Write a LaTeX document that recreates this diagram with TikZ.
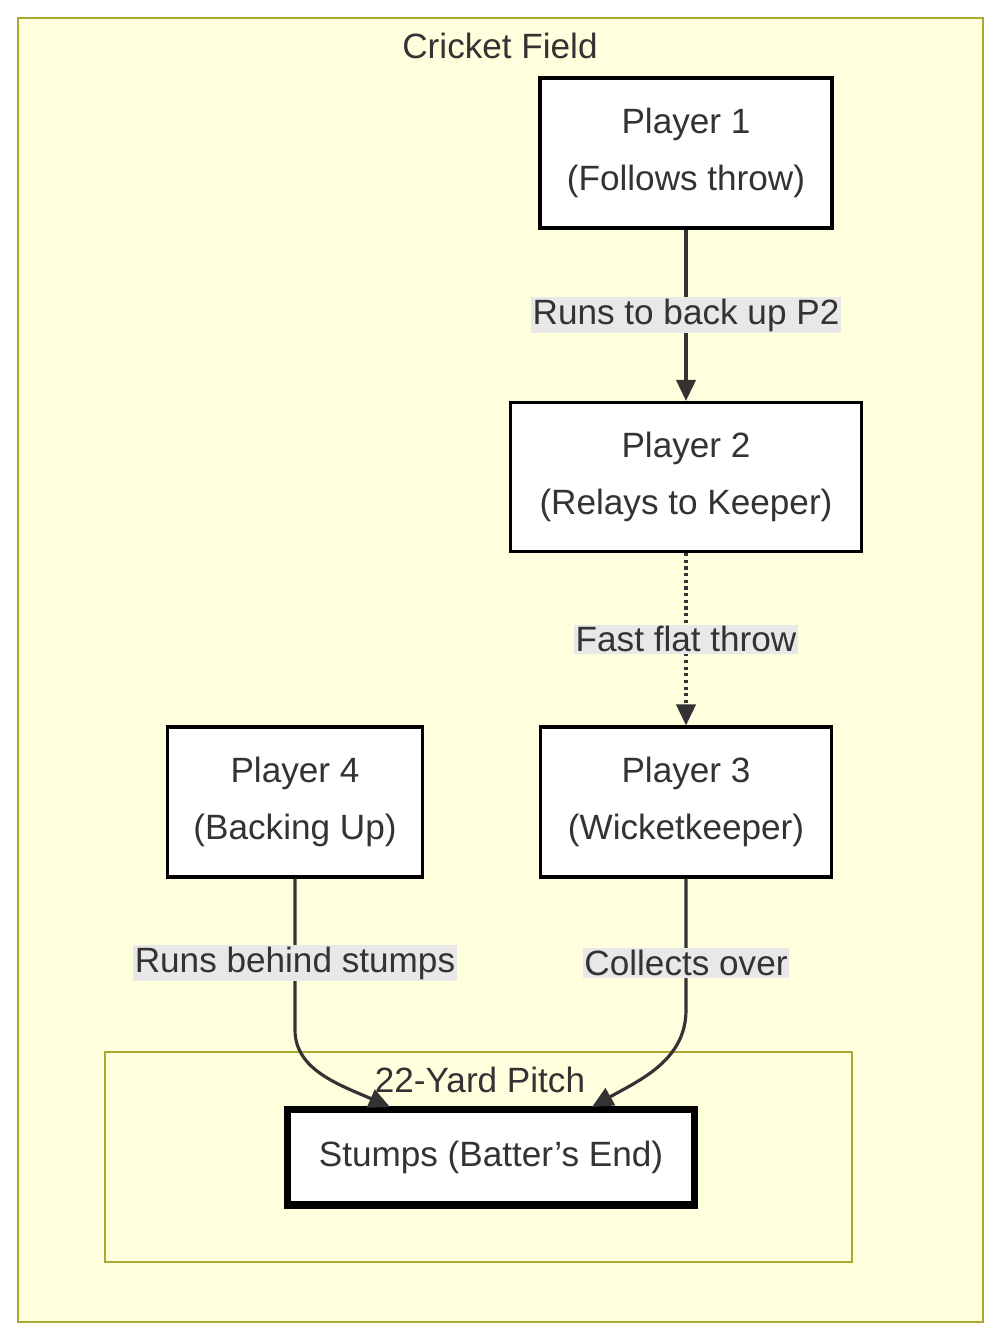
\documentclass[tikz,border=0pt]{standalone}
\usepackage{fontspec}
\setmainfont{Liberation Sans}
\usetikzlibrary{arrows.meta,positioning}
\definecolor{field}{HTML}{FFFFDE}
\definecolor{fieldline}{HTML}{AAAA33}
\definecolor{ink}{HTML}{333333}
\definecolor{lblbg}{HTML}{E8E8E8}

\begin{document}
\begin{tikzpicture}[
    x=0.02cm, y=-0.02cm,
    area/.style={draw=fieldline, fill=field, line width=1.2pt},
    player/.style={draw=black, fill=white, line width=1.8pt, align=center, text=ink, font=\fontsize{20}{32}\selectfont, inner sep=0pt},
    lbl/.style={fill=lblbg, text=ink, font=\fontsize{20}{24}\selectfont, inner sep=1pt},
    title/.style={text=ink, font=\fontsize{20}{24}\selectfont},
    arrow/.style={-{Triangle[length=12pt,width=11pt]}, line width=1.8pt, draw=ink}
]

\useasboundingbox (0,0) rectangle (1000,1341);

% Field and pitch
\draw[area] (18,18) rectangle (983,1322);
\node[title] (fieldlbl) at (500,46) {Cricket Field};
\draw[area] (105,1052) rectangle (852,1262);
\node[title] (pitchlbl) at (480,1080) {22-Yard Pitch};

% Players
\node[player, minimum width=5.84cm, minimum height=3cm] (p1) at (686,153) {Player 1\\(Follows throw)};
\node[player, minimum width=7.02cm, minimum height=2.98cm] (p2) at (686,477) {Player 2\\(Relays to Keeper)};
\node[player, minimum width=5.82cm, minimum height=3cm] (p3) at (686,802) {Player 3\\(Wicketkeeper)};
\node[player, minimum width=5.1cm, minimum height=3cm] (p4) at (295,802) {Player 4\\(Backing Up)};
\node[player, line width=4pt, minimum width=8.16cm, minimum height=1.92cm] (stumps) at (491,1157) {Stumps (Batter's End)};

% Connectors
\coordinate (s4) at (390,1107);
\coordinate (s3) at (592,1107);
\draw[arrow] (p1) -- node[lbl] {Runs to back up P2} (p2);
\draw[arrow, dotted] (p2) -- node[lbl] {Fast flat throw} (p3);
\draw[arrow] (p4.south) -- (295,1030) .. controls (295,1070) and (340,1085) .. (s4);
\draw[arrow] (p3.south) -- (686,1010) .. controls (686,1060) and (640,1080) .. (s3);
\node[lbl] (l4) at (295,963) {Runs behind stumps};
\node[lbl] (l3) at (686,963) {Collects over};

\end{tikzpicture}
\end{document}
